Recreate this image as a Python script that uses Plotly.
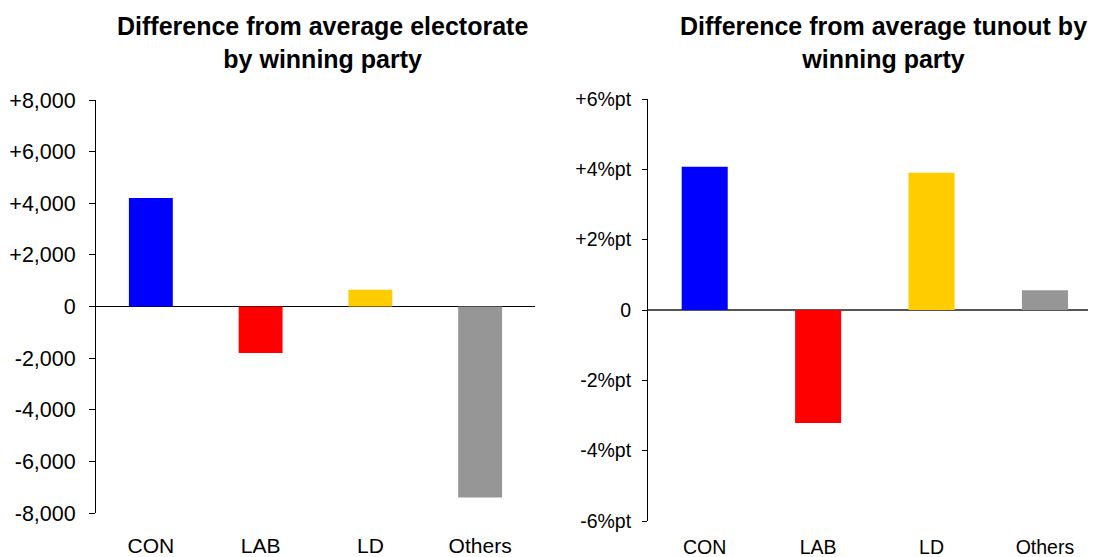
import plotly.graph_objects as go

categories = ["CON", "LAB", "LD", "Others"]
colors = ["#0000FF", "#FF0000", "#FFCC00", "#969696"]
electorate_diff = [4200, -1800, 650, -7400]
turnout_diff = [4.07, -3.21, 3.9, 0.56]

left_ticks = [-8000, -6000, -4000, -2000, 0, 2000, 4000, 6000, 8000]
left_ticktext = ["-8,000", "-6,000", "-4,000", "-2,000", "0", "+2,000", "+4,000", "+6,000", "+8,000"]
right_ticks = [-6, -4, -2, 0, 2, 4, 6]
right_ticktext = ["-6%pt", "-4%pt", "-2%pt", "0", "+2%pt", "+4%pt", "+6%pt"]

FONT = "Liberation Sans, Arial, sans-serif"
# page body has an 8px margin; figure is sized to fit the remaining window
W, H = 1088, 549
OFF = 8


def px_x(v):
    return (v - OFF) / W


def px_y(v):
    return 1 - (v - OFF) / H


fig = go.Figure()
fig.add_trace(go.Bar(x=categories, y=electorate_diff, marker=dict(color=colors, line=dict(width=0)),
                     width=0.4, xaxis="x", yaxis="y", showlegend=False))
fig.add_trace(go.Bar(x=categories, y=turnout_diff, marker=dict(color=colors, line=dict(width=0)),
                     width=0.406, xaxis="x2", yaxis="y2", showlegend=False))

fig.update_layout(
    width=W, height=H,
    margin=dict(l=0, r=0, t=0, b=0, autoexpand=False),
    paper_bgcolor="white", plot_bgcolor="white",
    font=dict(family=FONT, color="black"),
    xaxis=dict(domain=[px_x(96), px_x(535)], anchor="y", showline=False, showgrid=False, zeroline=False,
               automargin=False, range=[-0.5, 3.5],
               ticks="outside", ticklen=14, tickcolor="rgba(0,0,0,0)",
               tickfont=dict(size=21, family=FONT, color="black")),
    yaxis=dict(domain=[px_y(513), px_y(100)], anchor="x", range=[-8000, 8000],
               automargin=False,
               tickvals=left_ticks, ticktext=left_ticktext, showgrid=False,
               showline=True, linecolor="black", linewidth=1,
               ticks="outside", ticklen=6, tickcolor="black", tickwidth=1,
               zeroline=True, zerolinecolor="black", zerolinewidth=1,
               ticklabelstandoff=9,
               tickfont=dict(size=21.5, family=FONT, color="black")),
    xaxis2=dict(domain=[px_x(648), 1], anchor="y2", showline=False, showgrid=False, zeroline=False,
                automargin=False, range=[-0.5, 3.45],
                ticks="outside", ticklen=9, tickcolor="rgba(0,0,0,0)",
                tickfont=dict(size=19.5, family=FONT, color="black")),
    yaxis2=dict(domain=[px_y(521), px_y(99)], anchor="x2", range=[-6, 6],
                automargin=False,
                tickvals=right_ticks, ticktext=right_ticktext, showgrid=False,
                showline=True, linecolor="black", linewidth=1,
                ticks="outside", ticklen=5, tickcolor="black", tickwidth=1,
                zeroline=True, zerolinecolor="#555555", zerolinewidth=1.5,
                ticklabelstandoff=7,
                tickfont=dict(size=19.5, family=FONT, color="black")),
    annotations=[
        dict(text="<b>Difference from average electorate<br>by winning party</b>",
             x=px_x(322), y=px_y(10), xref="paper", yref="paper", xanchor="center", yanchor="top",
             showarrow=False, font=dict(size=25, family=FONT, color="black")),
        dict(text="<b>Difference from average tunout by<br>winning party</b>",
             x=px_x(883), y=px_y(10), xref="paper", yref="paper", xanchor="center", yanchor="top",
             showarrow=False, font=dict(size=25, family=FONT, color="black")),
    ],
)

fig.write_html("out.html")
